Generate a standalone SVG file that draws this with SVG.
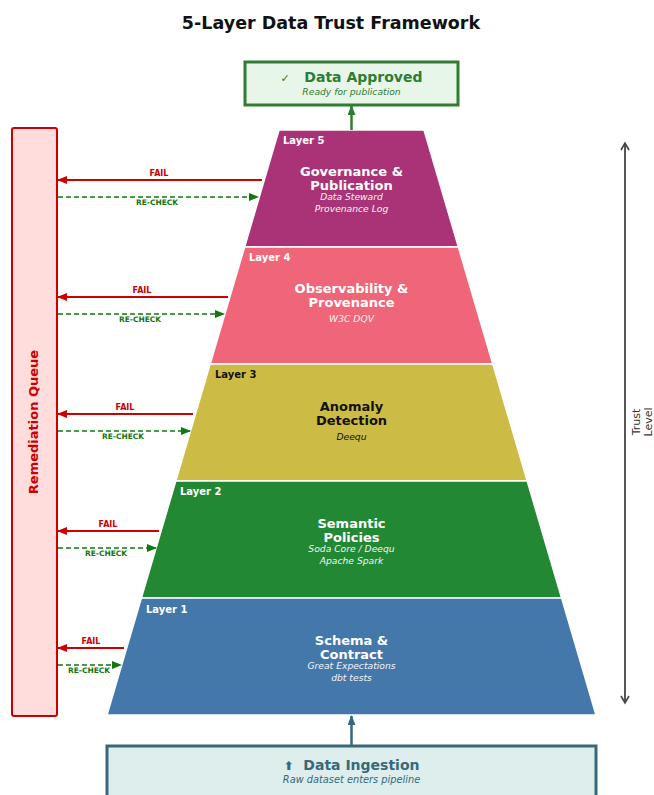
<svg xmlns="http://www.w3.org/2000/svg" width="654" height="795" viewBox="0 0 654 795">
<style>
text{font-family:"DejaVu Sans","Liberation Sans",sans-serif}
.title{font-size:17.5px;font-weight:bold;fill:#111}
.lyr{stroke:#fff;stroke-width:1.5}
.lbl{font-size:10px;font-weight:bold}
.ht{font-size:13px;font-weight:bold;text-anchor:middle}
.st{font-size:9.2px;font-style:italic;text-anchor:middle}
.w{fill:#fff}
.sw{fill:#f4f4f4}
.k{fill:#111}
.fail{stroke:#cc0000;stroke-width:1.8;fill:none}
.rec{stroke:#117711;stroke-width:1.6;stroke-dasharray:5,3;fill:none}
.fl{font-size:8px;font-weight:bold;fill:#cc0000;text-anchor:middle}
.rl{font-size:7.5px;font-weight:bold;fill:#117711;text-anchor:middle}
</style>
<defs>
<marker id="ar" markerWidth="10" markerHeight="8" refX="9" refY="4" orient="auto" markerUnits="userSpaceOnUse"><path d="M0,0 L10,4 L0,8 Z" fill="#cc0000"/></marker>
<marker id="ag" markerWidth="10" markerHeight="8" refX="9" refY="4" orient="auto" markerUnits="userSpaceOnUse"><path d="M0,0 L10,4 L0,8 Z" fill="#117711"/></marker>
<marker id="agu" markerWidth="10" markerHeight="8" refX="9" refY="4" orient="auto" markerUnits="userSpaceOnUse"><path d="M0,0 L10,4 L0,8 Z" fill="#2e7d32"/></marker>
<marker id="atu" markerWidth="10" markerHeight="8" refX="9" refY="4" orient="auto" markerUnits="userSpaceOnUse"><path d="M0,0 L10,4 L0,8 Z" fill="#37697a"/></marker>
<marker id="ak" markerWidth="10" markerHeight="10" refX="8" refY="5" orient="auto-start-reverse" markerUnits="userSpaceOnUse"><path d="M1,1 L8,5 L1,9" fill="none" stroke="#444" stroke-width="1.6"/></marker>
</defs>

<text class="title" x="331" y="29" text-anchor="middle">5-Layer Data Trust Framework</text>

<g id="approved">
<rect x="245" y="62" width="213" height="43" fill="#e8f5e9" stroke="#2e7d32" stroke-width="3"/>
<text x="351.5" y="82" text-anchor="middle" font-size="14" font-weight="bold" fill="#2e7d32" xml:space="preserve"><tspan font-size="11" font-weight="normal">✓</tspan>   Data Approved</text>
<text x="351.5" y="95" text-anchor="middle" font-size="9.2" font-style="italic" fill="#2e7d32">Ready for publication</text>
</g>

<g id="layer5">
<polygon class="lyr" points="279,130 424,130 458.4,247 244.6,247" fill="#aa3377"/>
<text class="lbl w" x="283" y="144">Layer 5</text>
<text class="ht w" x="351.5" y="176">Governance &amp;</text>
<text class="ht w" x="351.5" y="190">Publication</text>
<text class="st sw" x="351.5" y="200">Data Steward</text>
<text class="st sw" x="351.5" y="212">Provenance Log</text>
</g>
<g id="layer4">
<polygon class="lyr" points="244.6,247 458.4,247 492.8,364 210.2,364" fill="#ee6677"/>
<text class="lbl w" x="249" y="261">Layer 4</text>
<text class="ht w" x="351.5" y="293">Observability &amp;</text>
<text class="ht w" x="351.5" y="307">Provenance</text>
<text class="st sw" x="351.5" y="322">W3C DQV</text>
</g>
<g id="layer3">
<polygon class="lyr" points="210.2,364 492.8,364 527.2,481 175.8,481" fill="#ccbb44"/>
<text class="lbl k" x="215" y="378">Layer 3</text>
<text class="ht k" x="351.5" y="411">Anomaly</text>
<text class="ht k" x="351.5" y="425">Detection</text>
<text class="st k" x="351.5" y="440">Deequ</text>
</g>
<g id="layer2">
<polygon class="lyr" points="175.8,481 527.2,481 561.6,598 141.4,598" fill="#228833"/>
<text class="lbl w" x="180" y="495">Layer 2</text>
<text class="ht w" x="351.5" y="528">Semantic</text>
<text class="ht w" x="351.5" y="542">Policies</text>
<text class="st sw" x="351.5" y="552">Soda Core / Deequ</text>
<text class="st sw" x="351.5" y="564">Apache Spark</text>
</g>
<g id="layer1">
<polygon class="lyr" points="141.4,598 561.6,598 596,715 107,715" fill="#4477aa"/>
<text class="lbl w" x="146" y="613">Layer 1</text>
<text class="ht w" x="351.5" y="645">Schema &amp;</text>
<text class="ht w" x="351.5" y="659">Contract</text>
<text class="st sw" x="351.5" y="669">Great Expectations</text>
<text class="st sw" x="351.5" y="681">dbt tests</text>
</g>

<g id="ingestion">
<rect x="107" y="746" width="489" height="60" fill="#ddeeed" stroke="#37697a" stroke-width="3"/>
<text x="351.5" y="770" text-anchor="middle" font-size="14" font-weight="bold" fill="#37697a" xml:space="preserve"><tspan font-size="12">⬆</tspan>  Data Ingestion</text>
<text x="351.5" y="783" text-anchor="middle" font-size="9.8" font-style="italic" fill="#37697a">Raw dataset enters pipeline</text>
</g>

<g id="remediation">
<rect x="12" y="128" width="45" height="588" rx="2" fill="#ffdddd" stroke="#cc0000" stroke-width="2"/>
<text transform="translate(38,422) rotate(-90)" text-anchor="middle" font-size="13" font-weight="bold" fill="#cc0000">Remediation Queue</text>
</g>

<g id="trust">
<line x1="625" y1="143" x2="625" y2="703" stroke="#444" stroke-width="1.8" marker-start="url(#ak)" marker-end="url(#ak)"/>
<text transform="translate(640,422) rotate(-90)" text-anchor="middle" font-size="11" fill="#333">Trust</text>
<text transform="translate(652,422) rotate(-90)" text-anchor="middle" font-size="11" fill="#333">Level</text>
</g>

<g id="connectors">
<line x1="351.5" y1="130" x2="351.5" y2="106" stroke="#2e7d32" stroke-width="2.5" marker-end="url(#agu)"/>
<line x1="351.5" y1="745" x2="351.5" y2="716" stroke="#37697a" stroke-width="2.5" marker-end="url(#atu)"/>

<line class="fail" x1="262" y1="180" x2="58" y2="180" marker-end="url(#ar)"/>
<text class="fl" x="159" y="176">FAIL</text>
<line class="rec" x1="58" y1="197" x2="258" y2="197" marker-end="url(#ag)"/>
<text class="rl" x="157" y="205">RE-CHECK</text>

<line class="fail" x1="228" y1="297" x2="58" y2="297" marker-end="url(#ar)"/>
<text class="fl" x="142" y="293">FAIL</text>
<line class="rec" x1="58" y1="314" x2="224" y2="314" marker-end="url(#ag)"/>
<text class="rl" x="140" y="322">RE-CHECK</text>

<line class="fail" x1="193" y1="414" x2="58" y2="414" marker-end="url(#ar)"/>
<text class="fl" x="125" y="410">FAIL</text>
<line class="rec" x1="58" y1="431" x2="190" y2="431" marker-end="url(#ag)"/>
<text class="rl" x="123" y="439">RE-CHECK</text>

<line class="fail" x1="159" y1="531" x2="58" y2="531" marker-end="url(#ar)"/>
<text class="fl" x="108" y="527">FAIL</text>
<line class="rec" x1="58" y1="548" x2="156" y2="548" marker-end="url(#ag)"/>
<text class="rl" x="106" y="556">RE-CHECK</text>

<line class="fail" x1="124" y1="648" x2="58" y2="648" marker-end="url(#ar)"/>
<text class="fl" x="91" y="644">FAIL</text>
<line class="rec" x1="58" y1="665" x2="121" y2="665" marker-end="url(#ag)"/>
<text class="rl" x="89" y="673">RE-CHECK</text>
</g>
</svg>
